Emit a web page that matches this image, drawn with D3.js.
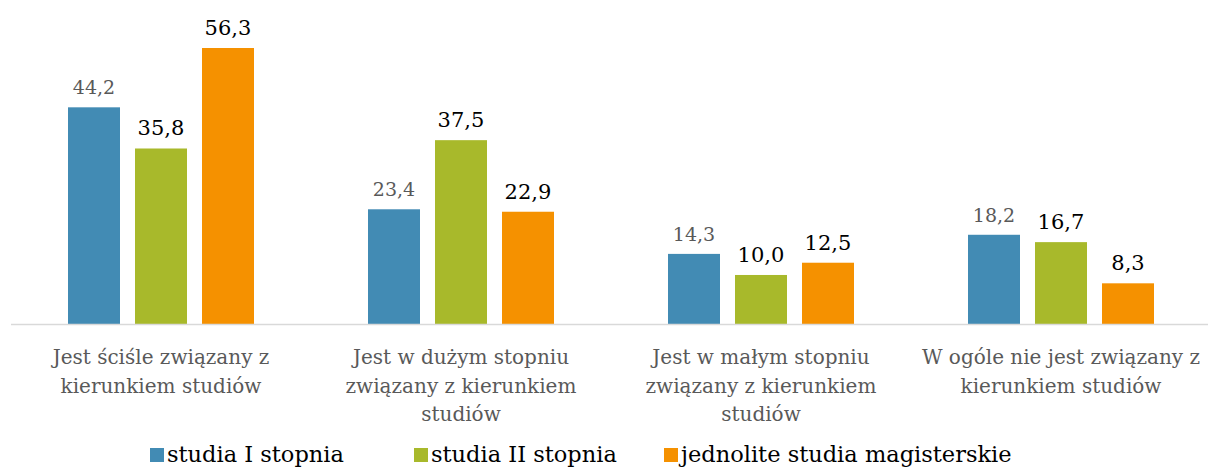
<!DOCTYPE html>
<html><head><meta charset="utf-8">
<script src="https://cdn.jsdelivr.net/npm/d3@7"></script>
<style>body{margin:0;background:#fff}svg{display:block}</style>
</head><body><svg id="c" width="1208" height="468"></svg>
<script>
const categories = [
  ["Jest ściśle związany z","kierunkiem studiów"],
  ["Jest w dużym stopniu","związany z kierunkiem","studiów"],
  ["Jest w małym stopniu","związany z kierunkiem","studiów"],
  ["W ogóle nie jest związany z","kierunkiem studiów"]
];
const seriesNames = ["studia I stopnia","studia II stopnia","jednolite studia magisterskie"];
const s1 = [44.2, 23.4, 14.3, 18.2];
const s2 = [35.8, 37.5, 10.0, 16.7];
const s3 = [56.3, 22.9, 12.5, 8.3];
const colors = ["#428bb4","#a8b92b","#f59100"];
const series = [s1,s2,s3];
const FONT = "'DejaVu Serif', serif";

const svg = d3.select("#c");
const x0 = d3.scaleBand().domain(d3.range(categories.length)).range([11,1211]);
const x1 = d3.scaleBand().domain(d3.range(3)).range([57,243]).paddingInner(15/67).paddingOuter(0);
const y = d3.scaleLinear().domain([0,56.3]).range([324,48]);

const g = svg.append("g");
series.forEach((vals,si)=>{
  g.selectAll(null).data(vals).enter().append("rect")
    .attr("x",(d,i)=>x0(i)+x1(si)).attr("width",x1.bandwidth())
    .attr("y",d=>y(d)).attr("height",d=>y(0)-y(d)).attr("fill",colors[si]);
  g.selectAll(null).data(vals).enter().append("text")
    .attr("x",(d,i)=>x0(i)+x1(si)+x1.bandwidth()/2)
    .attr("y",d=>y(d)-(si===0?13:13))
    .attr("text-anchor","middle")
    .attr("font-family",FONT)
    .attr("font-size",si===0?19:21)
    .attr("fill",si===0?"#595959":"#000")
    .text(d=>d.toFixed(1).replace(".",","));
});
svg.append("line").attr("x1",11).attr("x2",1208).attr("y1",y(0)+0.5).attr("y2",y(0)+0.5).attr("stroke","#d9d9d9").attr("stroke-width",1.5);

categories.forEach((lines,i)=>{
  const t = svg.append("text").attr("text-anchor","middle").attr("font-family",FONT).attr("font-size",20).attr("fill","#595959");
  lines.forEach((l,j)=>t.append("tspan").attr("x",x0(i)+x0.bandwidth()/2).attr("y",364+j*28.5).text(l));
});

const legX = [150,414,664];
seriesNames.forEach((n,i)=>{
  svg.append("rect").attr("x",legX[i]).attr("y",448).attr("width",14).attr("height",14).attr("fill",colors[i]);
  svg.append("text").attr("x",legX[i]+17).attr("y",462).attr("font-family",FONT).attr("font-size",22.5).attr("fill","#000").text(n);
});
</script></body></html>
